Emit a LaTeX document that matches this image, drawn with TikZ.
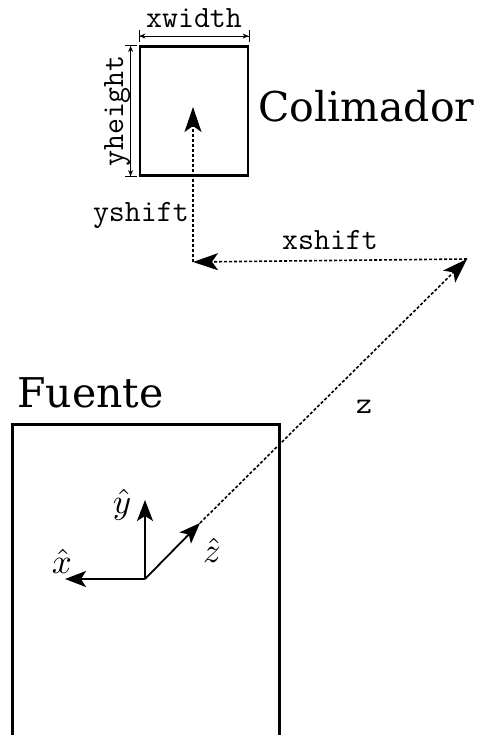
\documentclass[tikz,border=0pt]{standalone}
\usepackage{fontspec}
\setmainfont{DejaVu Serif}
\usepackage{amsmath}
\usepackage{tikz}
\usetikzlibrary{arrows.meta, positioning}

\begin{document}
\begin{tikzpicture}[x=1pt,y=-1pt,
    box/.style={draw,line width=2.8pt,inner sep=0pt},
    title/.style={font=\fontsize{41}{49}\selectfont,inner sep=0pt,anchor=base west},
    param/.style={font=\ttfamily\fontsize{31}{37}\selectfont,inner sep=0pt},
    vec/.style={font=\normalsize,scale=3.5,inner sep=0pt},
    axisarrow/.style={line width=1.8pt,-{Stealth[length=21pt,width=16pt,inset=5pt]}},
    shiftline/.style={line width=1.6pt,dash pattern=on 3pt off 2pt,
        -{Stealth[length=25pt,width=17pt,inset=6pt]}},
    dimline/.style={line width=0.8pt,
        {Bar[width=12pt]Stealth[length=6pt,width=5pt]}-{Stealth[length=6pt,width=5pt]Bar[width=12pt]}}]
    \useasboundingbox (0,0) rectangle (479,735);
    \clip (0,0) rectangle (479,735);

    % boxes
    \node[box,minimum width=108pt,minimum height=129pt] (colim) at (194,111) {};
    \node[box,minimum width=267pt,minimum height=400pt,anchor=north west] (fuente) at (11,423) {};
    \node[title] (colimtxt) at (258,122) {Colimador};
    \node[title] (fuentetxt) at (17,407) {Fuente};

    % sizes of the collimator
    \node[param,anchor=base] (xw) at (194,28) {xwidth};
    \node[param,anchor=base,rotate=90] (yh) at (123,111) {yheight};
    \draw[dimline] ([yshift=9pt]colim.north west) -- ([yshift=9pt]colim.north east);
    \draw[dimline] ([xshift=-8pt]colim.north west) -- ([xshift=-8pt]colim.south west);

    % offsets
    \coordinate (o) at (145,579);
    \coordinate (xt) at (65,579);
    \coordinate (yt) at (145,500);
    \coordinate (zt) at (200,523);
    \coordinate (far) at (467,259);
    \coordinate (corner) at (193,262);
    \coordinate (aim) at (193,107);
    \draw[shiftline] (corner) -- (aim);
    \draw[shiftline] (far) -- (corner);
    \draw[shiftline] (zt) -- (far);
    \node[param,anchor=base east] (ys) at (189,222) {yshift};
    \node[param,anchor=base] (xs) at (330,249) {xshift};
    \node[param,anchor=base] (zs) at (364,413) {z};

    % source frame
    \draw[axisarrow] (o) -- (xt);
    \draw[axisarrow] (o) -- (yt);
    \draw[axisarrow] (o) -- (zt);
    \node[vec] (xl) at (62,561) {$\hat{x}$};
    \node[vec] (yl) at (122,505) {$\hat{y}$};
    \node[vec] (zl) at (212,550) {$\hat{z}$};
\end{tikzpicture}
\end{document}
